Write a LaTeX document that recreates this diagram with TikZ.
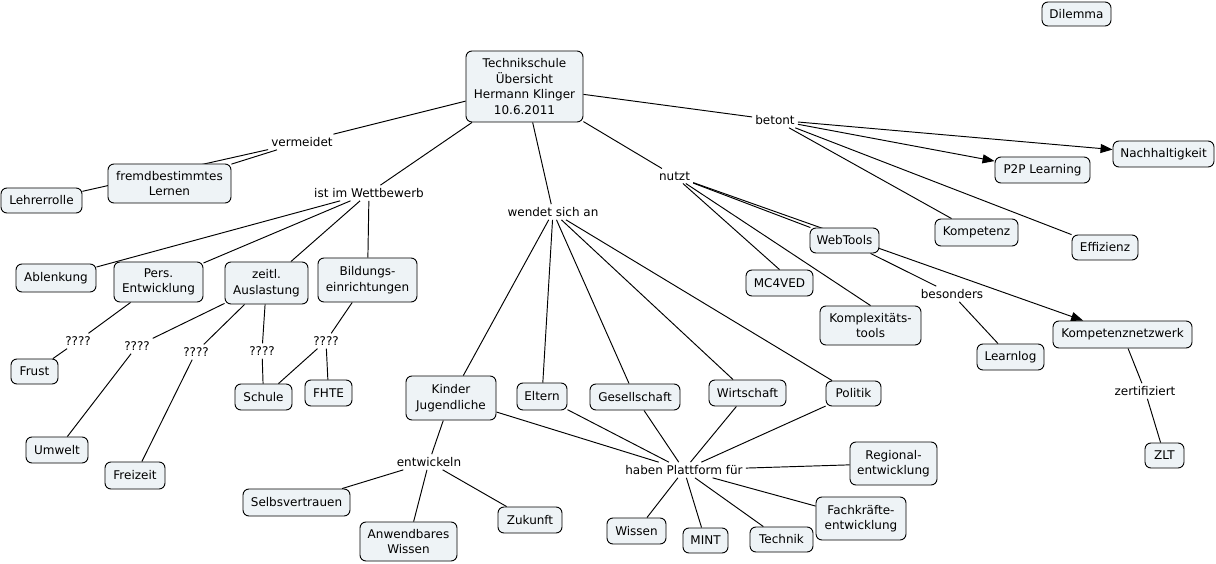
\documentclass[tikz,border=0pt]{standalone}
\usepackage{fontspec}
\setmainfont{DejaVu Sans}
\usetikzlibrary{arrows.meta}
\pgfdeclarelayer{bg}
\pgfdeclarelayer{edges}
\pgfsetlayers{bg,edges,main}
\definecolor{cfill}{HTML}{EEF3F6}
\newcommand\mapfs{\fontsize{12}{15.5}\selectfont}
\begin{document}
\begin{tikzpicture}[x=1pt,y=-1pt,
  concept/.style={draw=black, line width=0.9pt, fill=cfill, rounded corners=6pt, align=center, inner sep=0pt, font=\mapfs},
  lab/.style={inner sep=3pt, font=\mapfs, align=center},
  conn/.style={line width=0.95pt},
  arr/.style={conn, -{Triangle[length=12pt,width=9pt]}}]
\begin{pgfonlayer}{bg}
\fill[white] (0,0) rectangle (1216,564);
\end{pgfonlayer}
\useasboundingbox (0,0) rectangle (1216,564);

% concepts
\node[concept,minimum width=117,minimum height=71] (tech) at (524.5,86.5) {Technikschule\\Übersicht\\Hermann Klinger\\10.6.2011};
\node[concept,minimum width=69,minimum height=24] (dilemma) at (1076.5,14) {Dilemma};
\node[concept,minimum width=123,minimum height=39] (fremd) at (169.5,183.5) {fremdbestimmtes\\Lernen};
\node[concept,minimum width=81,minimum height=25] (lehrer) at (41.5,200.5) {Lehrerrolle};
\node[concept,minimum width=80,minimum height=28] (ablenk) at (56,278) {Ablenkung};
\node[concept,minimum width=89,minimum height=40] (pers) at (158.5,282) {Pers.\\Entwicklung};
\node[concept,minimum width=83,minimum height=42] (zeitl) at (266.5,283) {zeitl.\\Auslastung};
\node[concept,minimum width=99,minimum height=44] (bild) at (367.5,280) {Bildungs-\\einrichtungen};
\node[concept,minimum width=47,minimum height=25] (frust) at (34.5,371.5) {Frust};
\node[concept,minimum width=62,minimum height=26] (umwelt) at (57,450) {Umwelt};
\node[concept,minimum width=60,minimum height=27] (freizeit) at (135,475.5) {Freizeit};
\node[concept,minimum width=57,minimum height=26] (schule) at (263.5,397) {Schule};
\node[concept,minimum width=47,minimum height=26] (fhte) at (328.5,393) {FHTE};
\node[concept,minimum width=90,minimum height=44] (kinder) at (451,398) {Kinder\\Jugendliche};
\node[concept,minimum width=50,minimum height=27] (eltern) at (542,396.5) {Eltern};
\node[concept,minimum width=90,minimum height=26] (gesell) at (635,397) {Gesellschaft};
\node[concept,minimum width=77,minimum height=26] (wirt) at (747.5,393) {Wirtschaft};
\node[concept,minimum width=55,minimum height=25] (politik) at (853.5,393.5) {Politik};
\node[concept,minimum width=69,minimum height=25] (webtools) at (844.5,240.5) {WebTools};
\node[concept,minimum width=67,minimum height=26] (mc) at (779.5,283) {MC4VED};
\node[concept,minimum width=101,minimum height=39] (komplex) at (870.5,325.5) {Komplexitäts-\\tools};
\node[concept,minimum width=95,minimum height=26] (p2p) at (1042.5,170) {P2P Learning};
\node[concept,minimum width=101,minimum height=26] (nachhalt) at (1163.5,154) {Nachhaltigkeit};
\node[concept,minimum width=83,minimum height=27] (kompetenz) at (976.5,232.5) {Kompetenz};
\node[concept,minimum width=66,minimum height=25] (effizienz) at (1105,247.5) {Effizienz};
\node[concept,minimum width=67,minimum height=26] (learnlog) at (1010.5,357) {Learnlog};
\node[concept,minimum width=139,minimum height=27] (kompnetz) at (1122.5,334.5) {Kompetenznetzwerk};
\node[concept,minimum width=39,minimum height=25] (zlt) at (1164.5,455.5) {ZLT};
\node[concept,minimum width=107,minimum height=27] (selbst) at (296.5,502.5) {Selbsvertrauen};
\node[concept,minimum width=97,minimum height=39] (anw) at (408.5,541.5) {Anwendbares\\Wissen};
\node[concept,minimum width=64,minimum height=26] (zukunft) at (530,520) {Zukunft};
\node[concept,minimum width=87,minimum height=43] (regional) at (893.5,463.5) {Regional-\\entwicklung};
\node[concept,minimum width=90,minimum height=43] (fach) at (861,518.5) {Fachkräfte-\\entwicklung};
\node[concept,minimum width=59,minimum height=26] (wissen) at (636.5,531) {Wissen};
\node[concept,minimum width=45,minimum height=25] (mint) at (705.5,540.5) {MINT};
\node[concept,minimum width=63,minimum height=25] (technik) at (781.5,539.5) {Technik};

% linking phrases
\node[lab] (vermeidet) at (302,142) {vermeidet};
\node[lab] (wett) at (369,193) {ist im Wettbewerb};
\node[lab] (q1) at (78,341) {????};
\node[lab] (q2) at (137,346) {????};
\node[lab] (q3) at (196,352) {????};
\node[lab] (q4) at (262,351) {????};
\node[lab] (q5) at (326,341) {????};
\node[lab] (wendet) at (553,212) {wendet sich an};
\node[lab] (entw) at (429,462) {entwickeln};
\node[lab] (haben) at (684,470) {haben Plattform für};
\node[lab] (nutzt) at (674.5,176) {nutzt};
\node[lab] (betont) at (775,120) {betont};
\node[lab] (besonders) at (952,294) {besonders};
\node[lab] (zert) at (1145,391) {zertifiziert};

\begin{pgfonlayer}{edges}
\draw[conn] (tech) -- (vermeidet);
\draw[conn] (vermeidet) -- (fremd);
\draw[conn] (vermeidet) -- (lehrer);
\draw[conn] (tech) -- (wett);
\foreach \t in {ablenk,pers,zeitl,bild} \draw[conn] (wett) -- (\t);
\draw[conn] (pers) -- (q1) -- (frust);
\draw[conn] (zeitl) -- (q2) -- (umwelt);
\draw[conn] (zeitl) -- (q3) -- (freizeit);
\draw[conn] (zeitl) -- (q4) -- (schule);
\draw[conn] (bild) -- (q5);
\draw[conn] (q5) -- (schule);
\draw[conn] (q5) -- (fhte);
\draw[conn] (tech) -- (wendet);
\foreach \t in {kinder,eltern,gesell,wirt,politik} \draw[conn] (wendet) -- (\t);
\draw[conn] (kinder) -- (entw);
\foreach \t in {selbst,anw,zukunft} \draw[conn] (entw) -- (\t);
\foreach \t in {kinder,eltern,gesell,wirt,politik} \draw[conn] (\t) -- (haben);
\foreach \t in {regional,fach,wissen,mint,technik} \draw[conn] (haben) -- (\t);
\draw[conn] (tech) -- (nutzt);
\draw[conn] (nutzt) -- (webtools);
\draw[conn] (nutzt) -- (mc.north);
\draw[conn] (nutzt) -- (komplex.north);
\draw[arr] (nutzt) -- (kompnetz);
\draw[conn] (webtools) -- (besonders) -- (learnlog);
\draw[conn] (tech) -- (betont);
\draw[arr] (betont) -- (nachhalt);
\draw[arr] (betont) -- (p2p);
\draw[conn] (betont) -- (kompetenz);
\draw[conn] (betont) -- (effizienz);
\draw[conn] (kompnetz) -- (zert) -- (zlt);
\end{pgfonlayer}
\end{tikzpicture}
\end{document}
